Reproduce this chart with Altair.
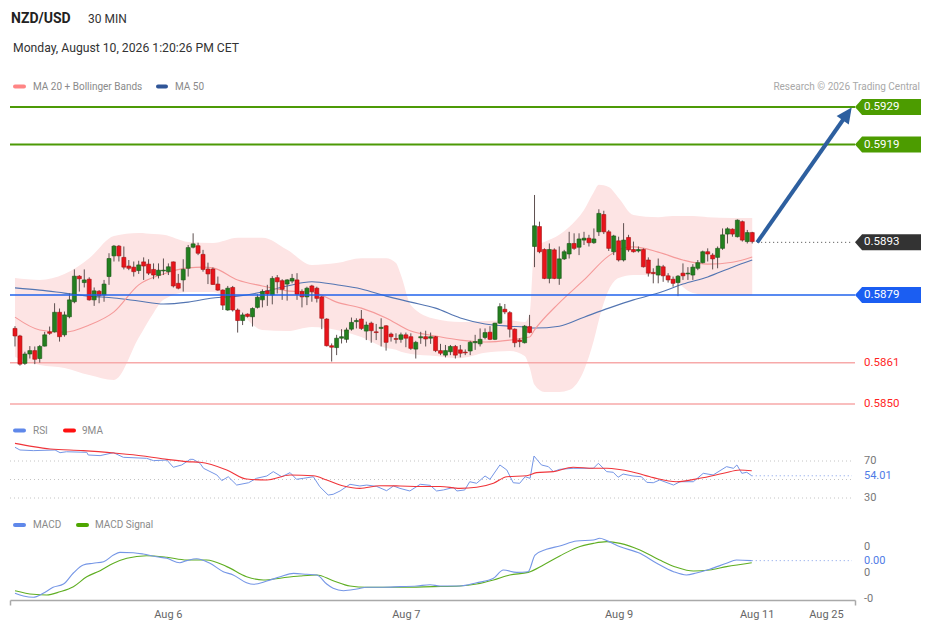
import altair as alt
import pandas as pd

FONT = "Roboto"

# ---------------- candles (30 min) ----------------
opens = [
0.58701,0.58681,0.58608,0.58633,0.58642,0.58621,0.58654,0.58692,0.58692,0.58744,
0.58684,0.58732,0.58772,0.58840,0.58823,0.58832,0.58777,0.58800,0.58790,0.58839,
0.58894,0.58920,0.58890,0.58867,0.58864,0.58855,0.58878,0.58872,0.58858,0.58842,
0.58854,0.58852,0.58878,0.58821,0.58830,0.58861,0.58917,0.58921,0.58898,0.58859,
0.58859,0.58819,0.58803,0.58750,0.58810,0.58750,0.58722,0.58739,0.58732,0.58757,
0.58777,0.58801,0.58790,0.58836,0.58828,0.58819,0.58827,0.58830,0.58799,0.58785,
0.58814,0.58808,0.58785,0.58726,0.58655,0.58650,0.58675,0.58672,0.58699,0.58719,
0.58726,0.58694,0.58715,0.58692,0.58701,0.58708,0.58686,0.58674,0.58672,0.58684,
0.58679,0.58646,0.58676,0.58679,0.58675,0.58679,0.58642,0.58630,0.58639,0.58653,
0.58644,0.58638,0.58641,0.58663,0.58660,0.58677,0.58691,0.58672,0.58715,0.58752,
0.58743,0.58699,0.58670,0.58663,0.58706,0.58919,0.58972,0.58911,0.58834,0.58910,
0.58834,0.58886,0.58899,0.58927,0.58917,0.58936,0.58941,0.58929,0.58958,0.59004,
0.58958,0.58905,0.58934,0.58883,0.58943,0.58911,0.58907,0.58911,0.58883,0.58850,
0.58843,0.58865,0.58841,0.58832,0.58823,0.58848,0.58846,0.58843,0.58861,0.58876,
0.58905,0.58896,0.58890,0.58914,0.58952,0.58965,0.58945,0.58985,0.58932,0.58956,
]
highs = [
0.58707,0.58684,0.58639,0.58654,0.58653,0.58657,0.58692,0.58706,0.58768,0.58754,
0.58746,0.58794,0.58858,0.58843,0.58858,0.58837,0.58810,0.58803,0.58830,0.58901,
0.58923,0.58923,0.58919,0.58883,0.58879,0.58881,0.58890,0.58885,0.58874,0.58874,
0.58887,0.58874,0.58879,0.58846,0.58885,0.58923,0.58954,0.58929,0.58910,0.58876,
0.58863,0.58839,0.58805,0.58814,0.58814,0.58754,0.58743,0.58741,0.58757,0.58792,
0.58805,0.58817,0.58840,0.58843,0.58832,0.58832,0.58846,0.58848,0.58805,0.58812,
0.58817,0.58812,0.58787,0.58728,0.58661,0.58684,0.58699,0.58703,0.58730,0.58728,
0.58750,0.58719,0.58719,0.58713,0.58728,0.58710,0.58690,0.58688,0.58690,0.58690,
0.58688,0.58668,0.58692,0.58695,0.58690,0.58681,0.58660,0.58657,0.58657,0.58657,
0.58657,0.58645,0.58668,0.58684,0.58701,0.58701,0.58707,0.58716,0.58768,0.58766,
0.58747,0.58701,0.58675,0.58710,0.58737,0.59056,0.58985,0.58914,0.58927,0.58914,
0.58919,0.58910,0.58958,0.58954,0.58954,0.58958,0.58950,0.58967,0.59018,0.59014,
0.58963,0.58950,0.58945,0.58981,0.58950,0.58932,0.58919,0.58914,0.58890,0.58861,
0.58887,0.58870,0.58848,0.58839,0.58843,0.58874,0.58864,0.58872,0.58883,0.58908,
0.58914,0.58901,0.58919,0.58967,0.58970,0.58967,0.58991,0.58988,0.58963,0.58958,
]
lows = [
0.58653,0.58602,0.58604,0.58621,0.58606,0.58610,0.58653,0.58684,0.58690,0.58666,
0.58679,0.58728,0.58768,0.58799,0.58810,0.58775,0.58761,0.58768,0.58772,0.58817,
0.58879,0.58879,0.58858,0.58856,0.58839,0.58846,0.58830,0.58843,0.58832,0.58834,
0.58843,0.58843,0.58810,0.58805,0.58799,0.58839,0.58914,0.58896,0.58852,0.58819,
0.58817,0.58801,0.58750,0.58748,0.58746,0.58690,0.58710,0.58730,0.58706,0.58754,
0.58757,0.58761,0.58765,0.58794,0.58777,0.58775,0.58821,0.58777,0.58757,0.58763,
0.58772,0.58770,0.58699,0.58653,0.58613,0.58630,0.58661,0.58663,0.58695,0.58701,
0.58697,0.58670,0.58663,0.58670,0.58653,0.58642,0.58666,0.58661,0.58663,0.58651,
0.58644,0.58621,0.58660,0.58653,0.58660,0.58638,0.58630,0.58624,0.58630,0.58621,
0.58624,0.58630,0.58630,0.58644,0.58653,0.58672,0.58670,0.58670,0.58713,0.58739,
0.58677,0.58651,0.58651,0.58661,0.58688,0.58864,0.58901,0.58832,0.58821,0.58832,
0.58817,0.58883,0.58887,0.58910,0.58896,0.58923,0.58919,0.58926,0.58947,0.58952,
0.58907,0.58896,0.58879,0.58879,0.58905,0.58903,0.58903,0.58863,0.58839,0.58821,
0.58821,0.58825,0.58823,0.58812,0.58787,0.58830,0.58830,0.58830,0.58856,0.58874,
0.58879,0.58858,0.58861,0.58910,0.58927,0.58945,0.58943,0.58932,0.58927,0.58927,
]
closes = [
0.58681,0.58606,0.58633,0.58642,0.58619,0.58653,0.58684,0.58688,0.58744,0.58679,
0.58737,0.58777,0.58840,0.58833,0.58830,0.58777,0.58801,0.58788,0.58819,0.58887,
0.58920,0.58894,0.58864,0.58861,0.58852,0.58870,0.58867,0.58848,0.58843,0.58856,
0.58856,0.58865,0.58814,0.58808,0.58858,0.58916,0.58926,0.58901,0.58858,0.58846,
0.58818,0.58803,0.58763,0.58808,0.58750,0.58722,0.58737,0.58733,0.58754,0.58784,
0.58799,0.58793,0.58834,0.58825,0.58805,0.58830,0.58834,0.58792,0.58785,0.58808,
0.58799,0.58781,0.58728,0.58655,0.58651,0.58675,0.58679,0.58697,0.58717,0.58722,
0.58701,0.58710,0.58695,0.58690,0.58704,0.58664,0.58679,0.58672,0.58684,0.58675,
0.58648,0.58664,0.58679,0.58673,0.58679,0.58642,0.58635,0.58642,0.58653,0.58630,
0.58635,0.58636,0.58664,0.58666,0.58672,0.58690,0.58672,0.58715,0.58759,0.58745,
0.58699,0.58663,0.58666,0.58707,0.58690,0.58974,0.58905,0.58834,0.58911,0.58834,
0.58886,0.58905,0.58927,0.58914,0.58939,0.58941,0.58929,0.58939,0.59007,0.58958,
0.58914,0.58947,0.58883,0.58936,0.58910,0.58905,0.58911,0.58865,0.58848,0.58847,
0.58867,0.58841,0.58830,0.58821,0.58840,0.58841,0.58848,0.58864,0.58876,0.58905,
0.58899,0.58886,0.58914,0.58950,0.58966,0.58952,0.58989,0.58936,0.58956,0.58932,
]

# ---------------- Bollinger bands / moving averages (read at sample bars) ----------------
band_idx = [0,5,10,15,20, 25,28,30,35,40, 45,50,55,60,65, 70,75,77,78,80,
            85,90,95,100,103, 104,105,107,110,112, 115,117,118,120,122,
            125,130,133,135,137, 140,145,149]
band_upper = [0.58835,0.58830,0.58846,0.58888,0.58947, 0.58955,0.58952,0.58950,0.58931,0.58928,
              0.58942,0.58942,0.58910,0.58870,0.58875, 0.58888,0.58888,0.58875,0.58843,0.58763,
              0.58726,0.58718,0.58721,0.58723,0.58718, 0.58739,0.58920,0.58931,0.58950,0.58971,
              0.59016,0.59064,0.59083,0.59077,0.59048, 0.59003,0.58997,0.59000,0.59000,0.59000,
              0.58997,0.58995,0.58995]
band_lower = [0.58625,0.58604,0.58596,0.58577,0.58564, 0.58676,0.58742,0.58777,0.58798,0.58798,
              0.58750,0.58697,0.58694,0.58705,0.58697, 0.58678,0.58649,0.58644,0.58639,0.58633,
              0.58628,0.58622,0.58636,0.58641,0.58628, 0.58598,0.58551,0.58532,0.58532,0.58537,
              0.58590,0.58670,0.58723,0.58803,0.58835, 0.58843,0.58843,0.58835,0.58811,0.58795,
              0.58790,0.58790,0.58790]

ma20_idx = [0,5,10,15,20, 25,30,35,38,40, 45,50,55,60,65, 70,75,80,85,90,
            95,100,103,104,105, 110,115,120,123,125, 130,135,140,145,149]
ma20 = [0.58731,0.58697,0.58691,0.58710,0.58745, 0.58817,0.58846,0.58862,0.58864,0.58862,
        0.58830,0.58814,0.58801,0.58798,0.58771, 0.58755,0.58729,0.58694,0.58681,0.58670,
        0.58665,0.58670,0.58676,0.58678,0.58697, 0.58769,0.58830,0.58894,0.58915,0.58918,
        0.58904,0.58883,0.58872,0.58877,0.58891]

ma50_idx = [0,5,10,15,20, 25,30,35,40,45, 50,55,60,65,70, 75,80,85,90,95,
            100,103,105,110,115, 120,125,130,135,140, 145,149]
ma50 = [0.58809,0.58803,0.58795,0.58787,0.58782, 0.58774,0.58766,0.58771,0.58782,0.58787,
        0.58798,0.58814,0.58825,0.58817,0.58806, 0.58787,0.58771,0.58755,0.58729,0.58713,
        0.58707,0.58705,0.58702,0.58707,0.58731, 0.58755,0.58777,0.58795,0.58819,0.58838,
        0.58864,0.58883]

# ---------------- levels ----------------
level_values = [0.5929, 0.5919, 0.5893, 0.5879, 0.5861, 0.5850]
level_labels = ["0.5929", "0.5919", "0.5893", "0.5879", "0.5861", "0.5850"]
level_kinds = ["resistance", "resistance", "last", "pivot", "support", "support"]
last_bar_next = 150.0

arrow_idx = [150.0, 168.0]
arrow_price = [0.58930, 0.59268]

# ---------------- RSI ----------------
rsi_idx = [0,1,3.7,8.1,9.1, 10.4,14.5,14.8,17.2,19.9, 21.9,26.6,28,30.7,32,
           33.7,35.4,36,37.4,38.1, 40.8,41.8,43.1,44.8,47.2, 48.8,50.9,52.2,53.9,55.6,
           56.9,58.3,60.3,61.6,63.3, 64.3,65.7,67.7,69.7,71.1, 73.1,75.1,76.5,77.8,79.8,
           81.9,83.9,85.2,86.6,88.6, 89.3,90.9,91.9,93.3,95, 96,98,99.4,100.7,102,
           103.1,104.1,104.9,106.4,107.8, 108.8,110.1,112.8,116.9,117.9, 119.6,120.9,121.9,122.9,124.9,
           126.6,127.7,129,130.3,133.1, 134.4,137.1,139.1,141.1,143.8, 145.2,145.9,146.9,147.9,148.9]
rsi_vals = [84.8,81.9,81.2,81.9,79, 80,79.4,76.5,75.8,79, 74,72.9,70.4,71,63.2,
            65.7,71.8,71.8,67.5,62.1, 54.9,48.8,53,44,46.5, 51.3,53.8,58.5,53,57.4,
            50.2,51.3,53,42.2,33.2, 34,37.6,44.8,43,44, 42.5,37.9,43,40.4,37.6,
            44.8,43.7,37.6,38.7,41.4, 37.6,38.7,47.6,45.9,53.8, 50.2,65.7,60.3,46.5,45.9,
            53,51.3,75.4,65.7,63.9, 58.5,61,62.1,62.1,67.5, 58.5,57.8,52.4,55.9,53.8,
            53,46.9,46.5,49.5,44, 47.6,47.6,56.7,54.9,63.9, 62.1,65.7,56.7,57.8,54.01]
rsima_idx = [0,3.7,7.1,13.8,20.5, 25.9,30.7,34.7,37.4,42.8, 46.8,50.9,55.6,60.3,63,
             66.4,69.7,73.8,77.8,81.9, 85.9,89.9,93.3,96.7,99.4, 103.4,105.4,108.8,112.8,116.9,
             119.6,125,129,133.7,138.4, 143.2,146.5,148.9]
rsima_vals = [89.1,85.5,83,81.2,78.3, 75.4,71.8,69.3,68.6,60.3, 50.5,49.5,54.9,54.1,49.5,
              43,40.4,43.3,43,42.5, 42.5,40.4,41.6,45.9,53, 54.1,57.4,58.5,63.2,62.1,
              62.1,57.8,52,47.6,51.3, 56.7,60.3,59.5]
rsi_grid = [70, 50, 30]
rsi_tick_vals = [70, 30]
rsi_tick_labels = ["70", "30"]
rsi_last_label = "54.01"

# ---------------- MACD ----------------
macd_idx = [0,1.7,3.7,5.7,7.7, 9.8,11.8,13.8,15.8,17.9, 19.9,21.2,23.9,25.9,28.6,
            30.7,33.3,34.7,36.7,39.4, 42.1,44.1,46.8,48.2,50.9, 53.6,56.3,59,61,63,
            64.3,66.4,69.1,71.1,74.4, 77.8,81.2,83.9,85.9,89.9, 93.3,96.7,98.7,101.4,103.7,
            105.1,107.4,110.1,113.5,116.9, 118.2,119.6,122.3,126.3,129.7, 133.1,135.7,137.7,140.4,143.8,
            145.8,148.9]
macd_vals = [-1.56e-4,-1.77e-4,-1.87e-4,-1.56e-4,-1.10e-4, -0.85e-4,0.0,0.62e-4,0.75e-4,0.87e-4,
             1.38e-4,1.59e-4,1.56e-4,1.46e-4,1.25e-4, 1.13e-4,0.79e-4,0.95e-4,1.10e-4,0.75e-4,
             0.10e-4,-0.15e-4,-0.75e-4,-0.87e-4,-0.62e-4, -0.29e-4,-0.03e-4,-0.10e-4,-0.15e-4,-0.85e-4,
             -1.18e-4,-1.36e-4,-1.23e-4,-1.10e-4,-1.10e-4, -1.05e-4,-1.00e-4,-0.90e-4,-1.00e-4,-1.00e-4,
             -0.75e-4,-0.41e-4,0.23e-4,0.05e-4,0.10e-4, 1.38e-4,1.82e-4,2.08e-4,2.46e-4,2.54e-4,
             2.67e-4,2.49e-4,2.02e-4,1.51e-4,0.75e-4, 0.10e-4,-0.15e-4,0.0,0.29e-4,0.75e-4,
             1.00e-4,0.95e-4]
sig_idx = [0,3.7,6.4,9.1,11.8, 14.5,17.2,19.9,22.6,26.6, 30.7,34.7,38.7,42.8,46.8,
           50.2,54.2,57.6,61,64.3, 67.7,71.1,77.8,84.5,89.9, 93.3,96.7,100,103.7,106.8,
           110.1,113.5,116.9,119.6,122.3, 126.3,130.3,133.7,137.1,140.4, 143.8,148.9]
sig_vals = [-1.36e-4,-1.64e-4,-1.69e-4,-1.44e-4,-1.05e-4, -0.29e-4,0.18e-4,0.75e-4,1.13e-4,1.33e-4,
            1.21e-4,1.00e-4,1.00e-4,0.49e-4,-0.29e-4, -0.54e-4,-0.36e-4,-0.23e-4,-0.15e-4,-0.59e-4,
            -1.00e-4,-1.10e-4,-1.10e-4,-1.05e-4,-1.00e-4, -0.85e-4,-0.54e-4,-0.15e-4,0.05e-4,0.62e-4,
            1.31e-4,1.95e-4,2.28e-4,2.41e-4,2.28e-4, 1.77e-4,1.00e-4,0.44e-4,0.15e-4,0.23e-4,
            0.49e-4,0.79e-4]
macd_tick_vals = [2e-4, 0.0, -2e-4]
macd_tick_labels = ["0", "0", "-0"]
macd_last_label = "0.00"

# ---------------- time axis ----------------
date_tick_idx = [30.9, 79.0, 122.0, 149.9, 163.9]
date_tick_labels = ["Aug 6", "Aug 7", "Aug 9", "Aug 11", "Aug 25"]
x_domain = [-1.01, 169.77]

# ================= build tables =================
candles = pd.DataFrame({"i": list(range(len(opens))), "open": opens, "high": highs,
                        "low": lows, "close": closes})
candles["dir"] = ["up" if c >= o else "down" for o, c in zip(opens, closes)]
band_df = pd.DataFrame({"i": band_idx, "upper": band_upper, "lower": band_lower})
ma20_df = pd.DataFrame({"i": ma20_idx, "v": ma20})
ma50_df = pd.DataFrame({"i": ma50_idx, "v": ma50})
levels = pd.DataFrame({"v": level_values, "label": level_labels, "kind": level_kinds})
current_df = pd.DataFrame({"i": [last_bar_next], "v": [level_values[2]]})
arrow_df = pd.DataFrame({"i": arrow_idx, "v": arrow_price})
head_df = arrow_df.tail(1)
rsi_df = pd.DataFrame({"i": rsi_idx, "v": rsi_vals})
rsima_df = pd.DataFrame({"i": rsima_idx, "v": rsima_vals})
rsi_grid_df = pd.DataFrame({"v": rsi_grid})
rsi_ticks_df = pd.DataFrame({"v": rsi_tick_vals, "t": rsi_tick_labels})
rsi_last_df = pd.DataFrame({"i": [rsi_idx[-1]], "v": [rsi_vals[-1]], "t": [rsi_last_label]})
macd_df = pd.DataFrame({"i": macd_idx, "v": macd_vals})
sig_df = pd.DataFrame({"i": sig_idx, "v": sig_vals})
macd_ticks_df = pd.DataFrame({"v": macd_tick_vals, "t": macd_tick_labels})
macd_last_df = pd.DataFrame({"i": [macd_idx[-1]], "v": [macd_vals[-1]], "t": [macd_last_label]})

# ================= scales & axis =================
label_expr = "''"
for v, lab in reversed(list(zip(date_tick_idx, date_tick_labels))):
    label_expr = f"abs(datum.value - {v}) < 0.01 ? '{lab}' : {label_expr}"

x_axis = alt.Axis(
    values=[-1.0] + date_tick_idx + [169.7],
    labelExpr=label_expr, title=None, grid=False,
    domainColor="#a9a9a9", domainWidth=1.5,
    tickSize=5, tickWidth=1.5,
    tickColor={"condition": {"test": "datum.value < 0 || datum.value > 169", "value": "#a9a9a9"},
               "value": "transparent"},
    labelFont=FONT, labelFontSize=11, labelColor="#666666", labelPadding=3,
    labelOverlap=False, labelFlush=False,
)
XS = alt.Scale(domain=x_domain, range=[2, 847], padding=0, nice=False, zero=False)


def X(field="i"):
    return alt.X(f"{field}:Q", scale=XS, axis=x_axis)


PY = alt.Scale(domain=[0.5850, 0.5929], range=[396, 99])
RY = alt.Scale(domain=[30, 70], range=[490, 453])
MY = alt.Scale(domain=[-2e-4, 2e-4], range=[591, 539])


def Yp(field):
    return alt.Y(f"{field}:Q", scale=PY, axis=None)


def Yr(field):
    return alt.Y(f"{field}:Q", scale=RY, axis=None)


def Ym(field):
    return alt.Y(f"{field}:Q", scale=MY, axis=None)


def text(t, x, y, size=10, color="#8a8a8a", weight="normal", align="left"):
    return alt.Chart(alt.Data(values=[{"t": t}])).mark_text(
        align=align, baseline="middle", font=FONT, fontSize=size, color=color, fontWeight=weight
    ).encode(x=alt.value(x), y=alt.value(y), text="t:N")


def swatch(x0, x1, y, color):
    return alt.Chart(alt.Data(values=[{"a": 1}])).mark_rule(
        color=color, strokeWidth=4, strokeCap="round"
    ).encode(x=alt.value(x0), x2=alt.value(x1), y=alt.value(y))


layers = []

# ---------- main panel ----------
layers.append(alt.Chart(band_df).mark_area(color="#fde4e4", interpolate="monotone").encode(
    x=X(), y=Yp("upper"), y2="lower:Q"))
layers.append(alt.Chart(levels).transform_filter("datum.kind == 'support'").mark_rule(
    color="#f7a9a9", strokeWidth=1.5).encode(x=alt.value(2), x2=alt.value(847), y=Yp("v")))
layers.append(alt.Chart(ma50_df).mark_line(color="#5375b2", strokeWidth=1.1, interpolate="monotone").encode(
    x=X(), y=Yp("v")))
layers.append(alt.Chart(ma20_df).mark_line(color="#f59a9a", strokeWidth=1.1, interpolate="monotone").encode(
    x=X(), y=Yp("v")))
layers.append(alt.Chart(candles).mark_rule(color="#5e5050", strokeWidth=1).encode(
    x=X(), y=Yp("low"), y2="high:Q"))
layers.append(alt.Chart(candles).mark_bar(size=4, strokeWidth=0.6).encode(
    x=X(), y=Yp("open"), y2="close:Q",
    color=alt.Color("dir:N", scale=alt.Scale(domain=["up", "down"], range=["#23801f", "#e8141b"]), legend=None),
    stroke=alt.Stroke("dir:N", scale=alt.Scale(domain=["up", "down"], range=["#1a5215", "#a31010"]), legend=None),
))
layers.append(alt.Chart(levels).transform_filter("datum.kind == 'resistance'").mark_rule(
    color="#4c9a06", strokeWidth=2).encode(x=alt.value(2), x2=alt.value(847), y=Yp("v")))
layers.append(alt.Chart(levels).transform_filter("datum.kind == 'pivot'").mark_rule(
    color="#2163ec", strokeWidth=1.5).encode(x=alt.value(2), x2=alt.value(847), y=Yp("v")))
layers.append(alt.Chart(current_df).mark_rule(
    color="#444444", strokeWidth=1, strokeDash=[1, 3]).encode(x=X(), x2=alt.value(844), y=Yp("v")))

TAG = "M-1,0L-0.8,-0.2254L1,-0.2254L1,0.2254L-0.8,0.2254Z"
layers.append(alt.Chart(levels).transform_filter("datum.kind != 'support'").mark_point(
    shape=TAG, size=5041, filled=True, opacity=1, strokeWidth=0).encode(
    x=alt.value(882.5), y=Yp("v"),
    color=alt.Color("kind:N", scale=alt.Scale(domain=["resistance", "last", "pivot"],
                                              range=["#4c9c00", "#333333", "#1b5ef2"]), legend=None)))
layers.append(alt.Chart(levels).transform_filter("datum.kind != 'support'").mark_text(
    align="left", baseline="middle", font=FONT, fontSize=11.5, color="white").encode(
    x=alt.value(856), y=Yp("v"), text="label:N"))
layers.append(alt.Chart(levels).transform_filter("datum.kind == 'support'").mark_text(
    align="left", baseline="middle", font=FONT, fontSize=11.5, color="#ff1f1f").encode(
    x=alt.value(856), y=Yp("v"), text="label:N"))

# arrow
layers.append(alt.Chart(arrow_df).mark_line(color="#2d5f9f", strokeWidth=4).encode(x=X(), y=Yp("v")))
HEAD = "M0,-1L0.78,0.65L-0.78,0.65Z"
layers.append(alt.Chart(head_df).mark_point(shape=HEAD, size=360, angle=35, filled=True, opacity=1,
                                            color="#2d5f9f", strokeWidth=0).encode(x=X(), y=Yp("v")))

# ---------- RSI panel ----------
layers.append(alt.Chart(rsi_grid_df).mark_rule(color="#c4c4c4", strokeWidth=1, strokeDash=[1, 3]).encode(
    x=alt.value(2), x2=alt.value(844), y=Yr("v")))
layers.append(alt.Chart(rsi_last_df).mark_rule(color="#7e9ce8", strokeWidth=1, strokeDash=[1, 3]).encode(
    x=X(), x2=alt.value(844), y=Yr("v")))
layers.append(alt.Chart(rsi_df).mark_line(color="#7596e6", strokeWidth=1).encode(x=X(), y=Yr("v")))
layers.append(alt.Chart(rsima_df).mark_line(color="#f0353a", strokeWidth=1.1, interpolate="monotone").encode(
    x=X(), y=Yr("v")))
layers.append(alt.Chart(rsi_ticks_df).mark_text(align="left", baseline="middle", font=FONT, fontSize=11,
                                                color="#777777").encode(
    x=alt.value(856), y=Yr("v"), text="t:N"))
layers.append(alt.Chart(rsi_last_df).mark_text(align="left", baseline="middle", font=FONT, fontSize=11,
                                               color="#4f7be6").encode(
    x=alt.value(856), y=Yr("v"), text="t:N"))

# ---------- MACD panel ----------
layers.append(alt.Chart(macd_last_df).mark_rule(color="#7e9ce8", strokeWidth=1, strokeDash=[1, 3]).encode(
    x=X(), x2=alt.value(844), y=Ym("v")))
layers.append(alt.Chart(sig_df).mark_line(color="#5fae22", strokeWidth=1.1, interpolate="monotone").encode(
    x=X(), y=Ym("v")))
layers.append(alt.Chart(macd_df).mark_line(color="#7596e6", strokeWidth=1.1, interpolate="monotone").encode(
    x=X(), y=Ym("v")))
layers.append(alt.Chart(macd_ticks_df).mark_text(align="left", baseline="middle", font=FONT, fontSize=11,
                                                 color="#777777").encode(
    x=alt.value(856), y=Ym("v"), text="t:N"))
layers.append(alt.Chart(macd_last_df).mark_text(align="left", baseline="middle", font=FONT, fontSize=11,
                                                color="#4f7be6").encode(
    x=alt.value(856), y=Ym("v"), text="t:N"))

# ---------- titles & legends ----------
layers.append(text("NZD/USD", 3, 11, size=14, color="#222222", weight="bold"))
layers.append(text("30 MIN", 80, 11, size=12, color="#333333"))
layers.append(text("Monday, August 10, 2026 1:20:26 PM CET", 5, 40, size=12.2, color="#333333"))
layers.append(swatch(7, 16, 78.5, "#ff8585"))
layers.append(text("MA 20 + Bollinger Bands", 25, 78.5))
layers.append(swatch(150, 158, 78.5, "#2f5597"))
layers.append(text("MA 50", 167, 78.5))
layers.append(text("Research \u00a9 2026 Trading Central", 912, 78.5, color="#a8a8a8", align="right"))
layers.append(swatch(7, 16, 422.5, "#5f88ea"))
layers.append(text("RSI", 25, 422.5))
layers.append(swatch(57, 66, 422.5, "#ff1010"))
layers.append(text("9MA", 74, 422.5))
layers.append(swatch(7, 16, 517, "#5f88ea"))
layers.append(text("MACD", 25, 517))
layers.append(swatch(70, 79, 517, "#4ea600"))
layers.append(text("MACD Signal", 87, 517))

chart = alt.layer(*layers).resolve_scale(
    y="independent", color="independent", stroke="independent"
).properties(
    width=913, height=592,
    autosize=alt.AutoSizeParams(type="none"),
    padding={"left": 0, "top": 0, "right": 0, "bottom": 21},
).configure_view(strokeWidth=0)

chart.save("out.html", embed_options={"renderer": "svg", "actions": False})
